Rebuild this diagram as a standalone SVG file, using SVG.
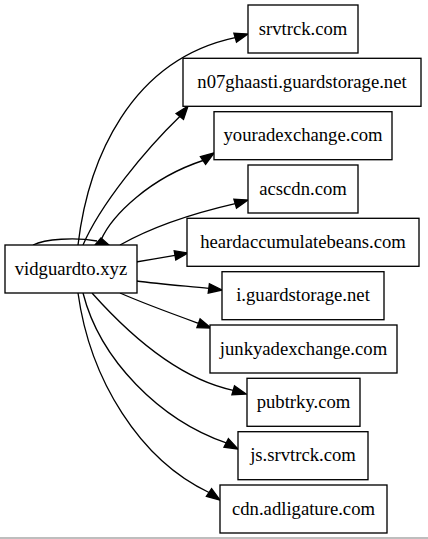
<svg xmlns="http://www.w3.org/2000/svg" width="428" height="539" viewBox="0 0 428 539">
<style>
.node rect{fill:#ffffff;stroke:#000000;stroke-width:1.33}
.node text{font-family:"Liberation Serif","Times New Roman",serif;font-size:18.67px;fill:#000000;text-anchor:middle}
.edge path{fill:none;stroke:#000000;stroke-width:1.33}
.edge polygon{fill:#000000;stroke:#000000;stroke-width:1.33}
</style>
<rect x="0" y="0" width="428" height="539" fill="#ffffff"/>
<line x1="0" y1="538" x2="428" y2="538" stroke="#a8a8a8" stroke-width="1.5"/>
<g id="edges">
  <g class="edge" id="e_self"><path d="M33,245 C45,239 75,237 97,241"/><polygon points="95,245 101,238 109,245"/></g>
  <g class="edge" id="e_srvtrck"><path d="M78,245 C88,160 130,60 235.2,37.6"/><polygon points="248,34 236.5,42.1 233.9,33.1"/></g>
  <g class="edge" id="e_n07"><path d="M83,245 C100,205 145,150 179.8,116.4"/><polygon points="188,106 183.5,119.3 176.1,113.5"/></g>
  <g class="edge" id="e_yourad"><path d="M101,240 C112,215 150,178 203,160.5"/><polygon points="214,153 205.6,164.4 200.4,156.6"/></g>
  <g class="edge" id="e_acscdn"><path d="M120,245 C150,228 190,214 235.2,203.6"/><polygon points="248,200 236.5,208.1 233.9,199.1"/></g>
  <g class="edge" id="e_heard"><path d="M136,262 C150,259.5 160,258 175,255.3"/><polygon points="188,253 175.8,259.9 174.2,250.7"/></g>
  <g class="edge" id="e_iguard"><path d="M136,281 C160,284 185,286 208.8,288.4"/><polygon points="222,290 208.2,293.1 209.4,283.8"/></g>
  <g class="edge" id="e_junky"><path d="M120,293 C145,304 170,313 198.5,323.3"/><polygon points="211,328 196.9,327.7 200.1,318.9"/></g>
  <g class="edge" id="e_pubtrky"><path d="M92,293 C125,330 175,378 233.2,390.3"/><polygon points="246,394 231.9,394.8 234.5,385.8"/></g>
  <g class="edge" id="e_js"><path d="M83,293 C100,360 160,420 226.2,442.9"/><polygon points="238,449 224,447.1 228.4,438.7"/></g>
  <g class="edge" id="e_cdn"><path d="M78,293 C90,380 140,460 209,492.5"/><polygon points="220,500 206.4,496.4 211.6,488.6"/></g>
</g>
<g class="node" id="n_vidguardto"><rect x="5" y="245" width="132" height="48"/><text x="71" y="274.5">vidguardto.xyz</text></g>
<g class="node" id="n_srvtrck"><rect x="248" y="5" width="110" height="48"/><text x="303" y="34.5">srvtrck.com</text></g>
<g class="node" id="n_n07"><rect x="183" y="58.3" width="238" height="48"/><text x="302" y="87.8">n07ghaasti.guardstorage.net</text></g>
<g class="node" id="n_yourad"><rect x="214" y="111.7" width="178" height="48"/><text x="303" y="141.2">youradexchange.com</text></g>
<g class="node" id="n_acscdn"><rect x="248" y="165" width="110" height="48"/><text x="303" y="194.5">acscdn.com</text></g>
<g class="node" id="n_heard"><rect x="187" y="218.3" width="232" height="48"/><text x="303" y="247.8">heardaccumulatebeans.com</text></g>
<g class="node" id="n_iguard"><rect x="222" y="271.7" width="162" height="48"/><text x="303" y="301.2">i.guardstorage.net</text></g>
<g class="node" id="n_junky"><rect x="210" y="325" width="187" height="48"/><text x="303.5" y="354.5">junkyadexchange.com</text></g>
<g class="node" id="n_pubtrky"><rect x="247" y="378.3" width="113" height="48"/><text x="303.5" y="407.8">pubtrky.com</text></g>
<g class="node" id="n_js"><rect x="238" y="431.7" width="130" height="48"/><text x="303" y="461.2">js.srvtrck.com</text></g>
<g class="node" id="n_cdn"><rect x="220" y="485" width="167" height="48"/><text x="303.5" y="514.5">cdn.adligature.com</text></g>
</svg>
